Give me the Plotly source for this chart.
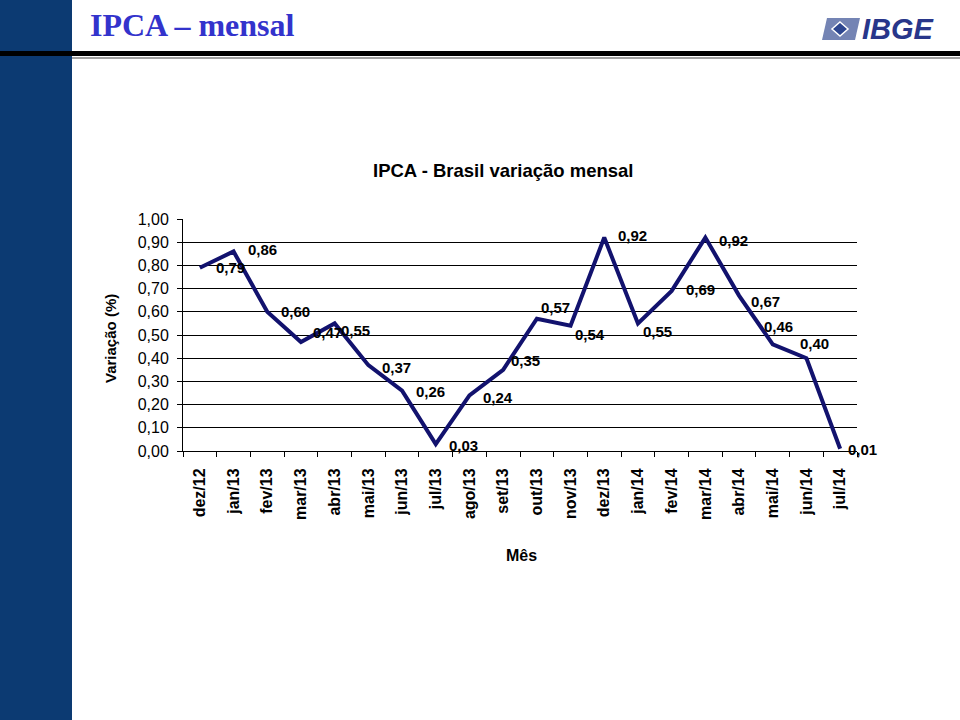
import plotly.graph_objects as go

months = ["dez/12", "jan/13", "fev/13", "mar/13", "abr/13", "mai/13", "jun/13", "jul/13",
          "ago/13", "set/13", "out/13", "nov/13", "dez/13", "jan/14", "fev/14", "mar/14",
          "abr/14", "mai/14", "jun/14", "jul/14"]
ipca = [0.79, 0.86, 0.60, 0.47, 0.55, 0.37, 0.26, 0.03, 0.24, 0.35, 0.57, 0.54,
        0.92, 0.55, 0.69, 0.92, 0.67, 0.46, 0.40, 0.01]
yticks = [i / 10 for i in range(11)]
ytick_text = [f"{v:.2f}".replace(".", ",") for v in yticks]

# label offsets (pixels) for data labels, style only
label_dx = [14, 12, 12, 10, 4, 12, 12, 11, 12, 6, 2, 2, 12, 3, 12, 12, 10, -11, -8, 6]
label_dy = [0, 2, 0, 9, -7, -2, -1, -1, -2, 9, 11, -9, 2, -8, 1, -3, -6, 18, 15, -1]

W, H = 960, 720
px0, px1 = 183, 857
py_top, py_bot = 219, 451
FONT = "Liberation Sans, Arial"

fig = go.Figure()
fig.add_trace(go.Scatter(
    x=months, y=ipca, mode="lines",
    line=dict(color="#12126e", width=4),
    hoverinfo="skip", showlegend=False,
))

for i, (m, v) in enumerate(zip(months, ipca)):
    fig.add_annotation(
        x=m, y=v, xref="x", yref="y",
        text=f"<b>{v:.2f}</b>".replace(".", ","),
        showarrow=False, xanchor="left", yanchor="middle",
        xshift=label_dx[i], yshift=label_dy[i],
        font=dict(family=FONT, size=15, color="#000000"),
    )

# left bar and header lines
fig.add_shape(type="rect", xref="paper", yref="paper", x0=0, x1=72 / W, y0=0, y1=1,
              fillcolor="#0c3a72", line=dict(width=0), layer="below")
fig.add_shape(type="rect", xref="paper", yref="paper", x0=0, x1=1,
              y0=1 - 56 / H, y1=1 - 51 / H, fillcolor="#000000", line=dict(width=0))
fig.add_shape(type="rect", xref="paper", yref="paper", x0=72 / W, x1=1,
              y0=1 - 59 / H, y1=1 - 57 / H, fillcolor="#a0a0a0", line=dict(width=0))

# IBGE logo (approximate)
fig.add_shape(type="path", xref="paper", yref="paper",
              path=f"M {827/W} {1-18/H} L {860/W} {1-18/H} L {855/W} {1-40/H} L {822/W} {1-40/H} Z",
              fillcolor="#7484b4", line=dict(width=0))
fig.add_shape(type="path", xref="paper", yref="paper",
              path=f"M {840/W} {1-22/H} L {848/W} {1-29/H} L {840/W} {1-36/H} L {832/W} {1-29/H} Z",
              fillcolor="#2d4690", line=dict(color="#ffffff", width=1.5))
fig.add_annotation(x=898 / W, y=1 - 29 / H, xref="paper", yref="paper",
                   text="<b><i>IBGE</i></b>", showarrow=False,
                   font=dict(family=FONT, size=29, color="#28368a"),
                   xanchor="center", yanchor="middle")

# page title
fig.add_annotation(x=88 / W, y=1 - 25 / H, xref="paper", yref="paper",
                   text="<b>IPCA – mensal</b>", showarrow=False,
                   font=dict(family="Liberation Serif, Times New Roman", size=32, color="#3333cc"),
                   xanchor="left", yanchor="middle")

# chart title
fig.add_annotation(x=503 / W, y=1 - 170 / H, xref="paper", yref="paper",
                   text="<b>IPCA - Brasil variação mensal</b>", showarrow=False,
                   font=dict(family=FONT, size=18.5, color="#000000"),
                   xanchor="center", yanchor="middle")

# axis titles
fig.add_annotation(x=110 / W, y=1 - 339 / H, xref="paper", yref="paper",
                   text="<b>Variação (%)</b>", showarrow=False, textangle=-90,
                   font=dict(family=FONT, size=15, color="#000000"),
                   xanchor="center", yanchor="middle")
fig.add_annotation(x=521 / W, y=1 - 555 / H, xref="paper", yref="paper",
                   text="<b>Mês</b>", showarrow=False,
                   font=dict(family=FONT, size=16, color="#000000"),
                   xanchor="center", yanchor="middle")

fig.update_layout(
    template="none",
    width=W, height=H, autosize=False,
    margin=dict(l=0, r=0, t=0, b=0, pad=0, autoexpand=False),
    paper_bgcolor="#ffffff", plot_bgcolor="#ffffff",
    showlegend=False,
    xaxis=dict(
        domain=[px0 / W, px1 / W],
        type="category", categoryorder="array", categoryarray=months,
        range=[-0.5, len(months) - 0.5], automargin=False,
        tickson="boundaries", ticks="outside", ticklen=5, tickcolor="#000000",
        ticklabelstandoff=10,
        tickangle=-90, showgrid=False, showline=True, linecolor="#000000", linewidth=1,
        tickfont=dict(family=FONT, size=16, color="#000000", weight="bold"),
        zeroline=False, fixedrange=True,
    ),
    yaxis=dict(
        domain=[1 - py_bot / H, 1 - py_top / H], automargin=False,
        range=[0, 1], tickvals=yticks, ticktext=ytick_text,
        ticks="outside", ticklen=5, tickcolor="#000000",
        ticklabelstandoff=5,
        showgrid=True, gridcolor="#000000", gridwidth=1,
        showline=True, linecolor="#000000", linewidth=1,
        zeroline=False,
        tickfont=dict(family=FONT, size=16, color="#000000"),
        fixedrange=True,
    ),
)

fig.write_html("out.html", config={"displayModeBar": False},
               post_script="document.body.style.margin='0';document.body.style.overflow='hidden';")
